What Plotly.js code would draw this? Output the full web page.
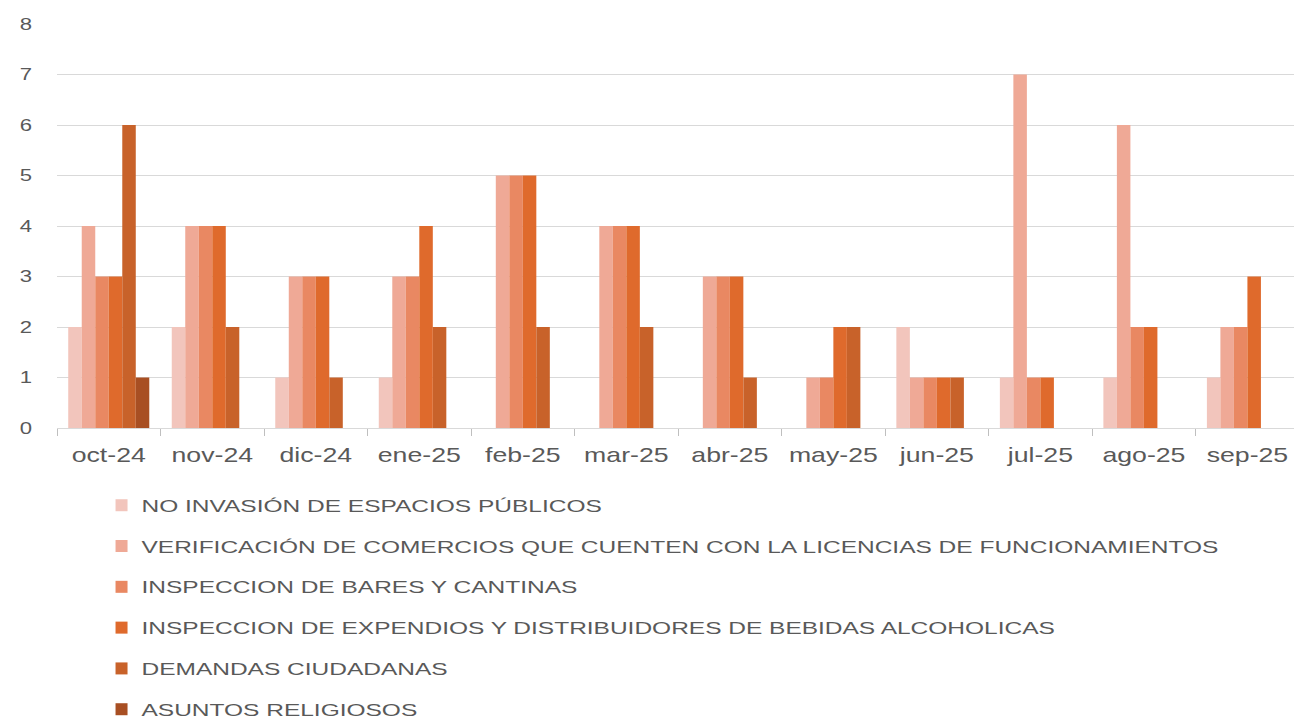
<!DOCTYPE html>
<html>
<head>
<meta charset="utf-8">
<script src="https://cdn.plot.ly/plotly-3.0.1.min.js"></script>
<style>
html,body{margin:0;padding:0;background:#ffffff;}
#chart{width:1294px;height:719px;}
</style>
</head>
<body>
<div id="chart"></div>
<script>
// ---- data ----
const months = ['oct-24','nov-24','dic-24','ene-25','feb-25','mar-25','abr-25','may-25','jun-25','jul-25','ago-25','sep-25'];
const seriesNames = [
  'NO INVASIÓN DE ESPACIOS PÚBLICOS',
  'VERIFICACIÓN DE COMERCIOS QUE CUENTEN CON LA LICENCIAS DE FUNCIONAMIENTOS',
  'INSPECCION DE BARES Y CANTINAS',
  'INSPECCION DE EXPENDIOS Y DISTRIBUIDORES DE BEBIDAS ALCOHOLICAS',
  'DEMANDAS CIUDADANAS',
  'ASUNTOS RELIGIOSOS'
];
const noInvasion   = [2,2,1,1,0,0,0,0,2,1,1,1];
const verificacion = [4,4,3,3,5,4,3,1,1,7,6,2];
const bares        = [3,4,3,3,5,4,3,1,1,1,2,2];
const expendios    = [3,4,3,4,5,4,3,2,1,1,2,3];
const demandas     = [6,2,1,2,2,2,1,2,1,0,0,0];
const religiosos   = [1,0,0,0,0,0,0,0,0,0,0,0];
const seriesValues = [noInvasion, verificacion, bares, expendios, demandas, religiosos];
const colors = ['#F2C5BC','#EFA996','#E98862','#DF6A2C','#C8622A','#A84F23'];

const traces = seriesNames.map((name, i) => ({
  type: 'bar',
  name: name,
  x: months,
  y: seriesValues[i],
  legendgroup: 'g' + i,
  marker: {color: colors[i], line: {width: 0}},
  hoverinfo: 'x+y+name'
}));

const layout = {
  width: 1294,
  height: 719,
  margin: {l: 57, r: 0, t: 24, b: 291, autoexpand: false},
  paper_bgcolor: '#ffffff',
  plot_bgcolor: '#ffffff',
  barmode: 'group',
  bargap: 0.217,
  bargroupgap: 0,
  font: {family: 'Liberation Sans, Arial, sans-serif', color: '#595959'},
  showlegend: true,
  xaxis: {
    type: 'category',
    range: [-0.5, 11.45],
    tickson: 'boundaries',
    ticks: 'outside',
    ticklen: 7,
    tickcolor: '#bfbfbf',
    showline: true,
    linecolor: '#d9d9d9',
    linewidth: 1,
    showgrid: false,
    zeroline: false,
    ticklabelstandoff: 8,
    tickfont: {size: 21, color: '#595959'}
  },
  yaxis: {
    range: [0, 8],
    tick0: 0,
    dtick: 1,
    showgrid: true,
    gridcolor: '#d9d9d9',
    gridwidth: 1,
    showline: false,
    zeroline: false,
    ticks: '',
    ticklabelstandoff: 24,
    tickfont: {size: 17, color: '#595959'}
  },
  legend: {
    orientation: 'v',
    xref: 'paper', yref: 'paper',
    x: 0.036,
    y: -0.1477,
    xanchor: 'left',
    yanchor: 'top',
    traceorder: 'grouped',
    tracegroupgap: 15.7,
    font: {size: 17, color: '#595959'},
    bgcolor: 'rgba(0,0,0,0)'
  }
};

// horizontal stretch factors: the reference text is drawn wider than a normal face
const stretchLegend = 1.44;
const stretchX = 1.27;
const stretchY = 1.3;

function stretchTexts(gd) {
  const apply = (sel, k) => {
    gd.querySelectorAll(sel).forEach(el => {
      const w = el.getComputedTextLength();
      if (w > 0) {
        el.setAttribute('textLength', (w * k).toFixed(2));
        el.setAttribute('lengthAdjust', 'spacingAndGlyphs');
      }
    });
  };
  apply('.legendtext', stretchLegend);
  apply('.xtick text', stretchX);
  apply('.ytick text', stretchY);
  // the legend box was measured before stretching: let it show the full text
  gd.querySelectorAll('.legend, .legend .scrollbox').forEach(el => el.removeAttribute('clip-path'));
  gd.querySelectorAll('.legend .bg').forEach(el => el.setAttribute('width', '1200'));
}

Plotly.newPlot('chart', traces, layout, {displayModeBar: false, staticPlot: true})
  .then(gd => stretchTexts(gd));
</script>
</body>
</html>
